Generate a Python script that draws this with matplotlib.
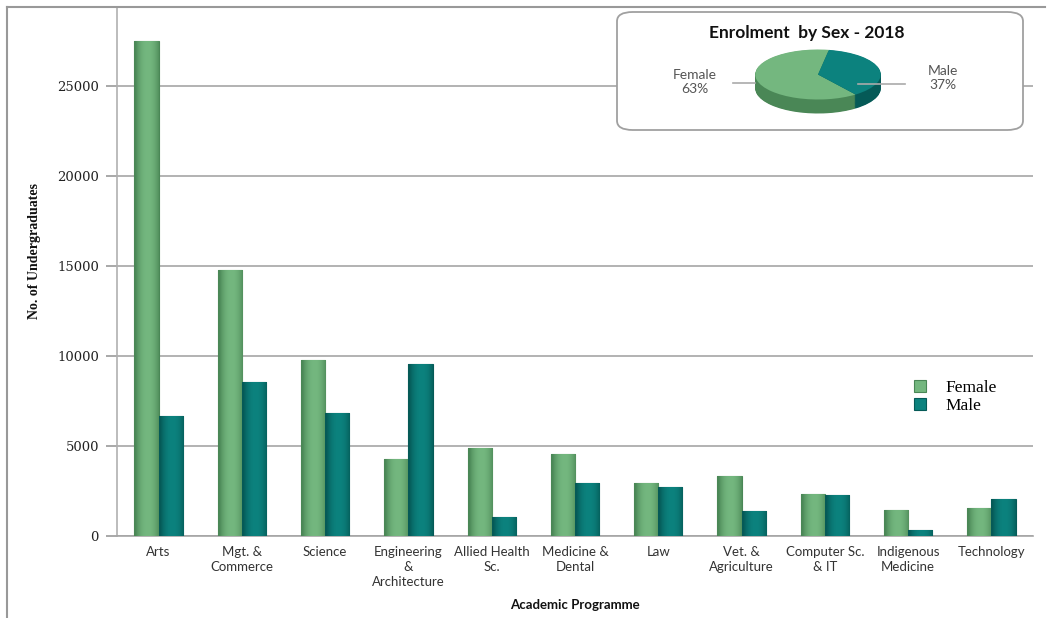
import numpy as np
import matplotlib
matplotlib.use("Agg")
import matplotlib.pyplot as plt
from matplotlib.patches import FancyBboxPatch
from matplotlib.lines import Line2D

# --- data ---
programmes = ["Arts", "Mgt. &\nCommerce", "Science", "Engineering\n&\nArchitecture",
              "Allied Health\nSc.", "Medicine &\nDental", "Law", "Vet. &\nAgriculture",
              "Computer Sc.\n& IT", "Indigenous\nMedicine", "Technology"]
female = [27500, 14780, 9780, 4260, 4900, 4540, 2960, 3350, 2310, 1440, 1570]
male = [6670, 8570, 6815, 9540, 1040, 2930, 2700, 1410, 2300, 330, 2040]
yticks = [0, 5000, 10000, 15000, 20000, 25000]

pie_labels = ["Female", "Male"]
pie_share = [63, 37]

C_F, C_F_DARK = "#74b77f", "#4a8756"
C_M, C_M_DARK = "#0c827e", "#055a57"

W, H = 1048, 618


def fx(x):
    return x / W


def fy(y):
    return 1 - y / H


fig = plt.figure(figsize=(W / 100, H / 100), dpi=100)
ax = fig.add_axes([fx(117), fy(536), fx(1033) - fx(117), fy(7) - fy(536)])

x = np.arange(len(programmes))
bw = 0.29
bars_f = ax.bar(x - bw / 2, female, bw, color=C_F, edgecolor=C_F_DARK, linewidth=0.8,
                label="Female", zorder=3)
bars_m = ax.bar(x + bw / 2, male, bw, color=C_M, edgecolor=C_M_DARK, linewidth=0.8,
                label="Male", zorder=3)


# cylinder-ish shading on each bar
def shade(bars, base, dark):
    from matplotlib.colors import to_rgb
    b = np.array(to_rgb(base))
    d = np.array(to_rgb(dark))
    t = np.linspace(-1, 1, 40)
    w = np.clip(np.abs(t - 0.1) ** 2.2, 0, 1)
    row = b[None, :] * (1 - w[:, None]) + d[None, :] * w[:, None]
    img = row[None, :, :]
    for p in bars:
        x0, y0 = p.get_x(), p.get_y()
        im = ax.imshow(img, extent=(x0, x0 + p.get_width(), y0, y0 + p.get_height()),
                       aspect="auto", zorder=3.5, interpolation="bilinear")
        im.set_clip_path(p)


shade(bars_f, C_F, C_F_DARK)
shade(bars_m, C_M, C_M_DARK)

ax.set_xlim(-0.5, 10.5)
ax.set_ylim(0, 29400)
ax.set_yticks(yticks)
ax.set_yticklabels([str(v) for v in yticks], family="DejaVu Serif", fontsize=9.5, color="#222")
ax.set_xticks(x)
ax.set_xticklabels(programmes, family="Lato", fontsize=9.5, color="#333", linespacing=1.3)
ax.tick_params(axis="x", length=0, pad=7)
ax.tick_params(axis="y", length=8, color="#999", width=1.2, pad=5)
ax.grid(axis="y", color="#a5a5a5", linewidth=1.2, zorder=0)
for s in ["top", "right"]:
    ax.spines[s].set_visible(False)
ax.spines["left"].set_color("#b0b0b0")
ax.spines["bottom"].set_color("#a5a5a5")
ax.spines["left"].set_linewidth(1.2)
ax.spines["bottom"].set_linewidth(1.2)

fig.text(fx(575), fy(605), "Academic Programme", family="Lato", fontweight="bold",
         fontsize=9.5, ha="center", va="center", color="#111")
fig.text(fx(35), fy(251), "No. of Undergraduates", family="Liberation Serif",
         fontweight="bold", fontsize=10, rotation=90, ha="center", va="center", color="#111")

ax.legend(frameon=False, loc="upper left", bbox_to_anchor=(0.853, 0.325),
          prop={"family": "Liberation Serif", "size": 12.5}, handlelength=0.7,
          handleheight=0.7, handletextpad=1.1, labelspacing=0.1)

# outer frame lines
fig.add_artist(Line2D([fx(7), fx(1045)], [fy(7), fy(7)], color="#999", lw=1.5))
fig.add_artist(Line2D([fx(7), fx(7)], [fy(7), fy(618)], color="#999", lw=1.5))

# --- pie inset ---
box = FancyBboxPatch((fx(617), fy(130)), fx(1023) - fx(617), fy(12) - fy(130),
                     boxstyle="round,pad=0,rounding_size=0.015", transform=fig.transFigure,
                     facecolor="white", edgecolor="#a0a0a0", linewidth=1.3, zorder=5)
fig.add_artist(box)

pax = fig.add_axes([fx(754), fy(114), fx(882) - fx(754), fy(49) - fy(114)], zorder=6)
depth = 0.56
for off in np.linspace(-depth, -0.02, 25):
    pax.pie(pie_share, colors=[C_F_DARK, C_M_DARK], startangle=80, center=(0, off),
            radius=1, frame=True, wedgeprops={"linewidth": 0})
pax.pie(pie_share, colors=[C_F, C_M], startangle=80, center=(0, 0), radius=1,
        frame=True, wedgeprops={"linewidth": 0})
pax.set_aspect("auto")
pax.set_xlim(-1.02, 1.02)
pax.set_ylim(-1.58, 1.02)
pax.axis("off")

fig.text(fx(807), fy(33), "Enrolment  by Sex - 2018", family="Lato", fontweight="bold",
         fontsize=12.5, ha="center", va="center", color="#111", zorder=7)
fig.text(fx(695), fy(82), f"{pie_labels[0]}\n{pie_share[0]}%", family="Lato", fontsize=10,
         ha="center", va="center", color="#555", zorder=7, linespacing=1.2)
fig.text(fx(943), fy(78), f"{pie_labels[1]}\n{pie_share[1]}%", family="Lato", fontsize=10,
         ha="center", va="center", color="#555", zorder=7, linespacing=1.2)
fig.add_artist(Line2D([fx(733), fx(755)], [fy(83), fy(83)], color="#aaa", lw=1.2, zorder=7))
fig.add_artist(Line2D([fx(858), fx(905)], [fy(84), fy(84)], color="#aaa", lw=1.2, zorder=7))

fig.savefig("out.png", dpi=100)
